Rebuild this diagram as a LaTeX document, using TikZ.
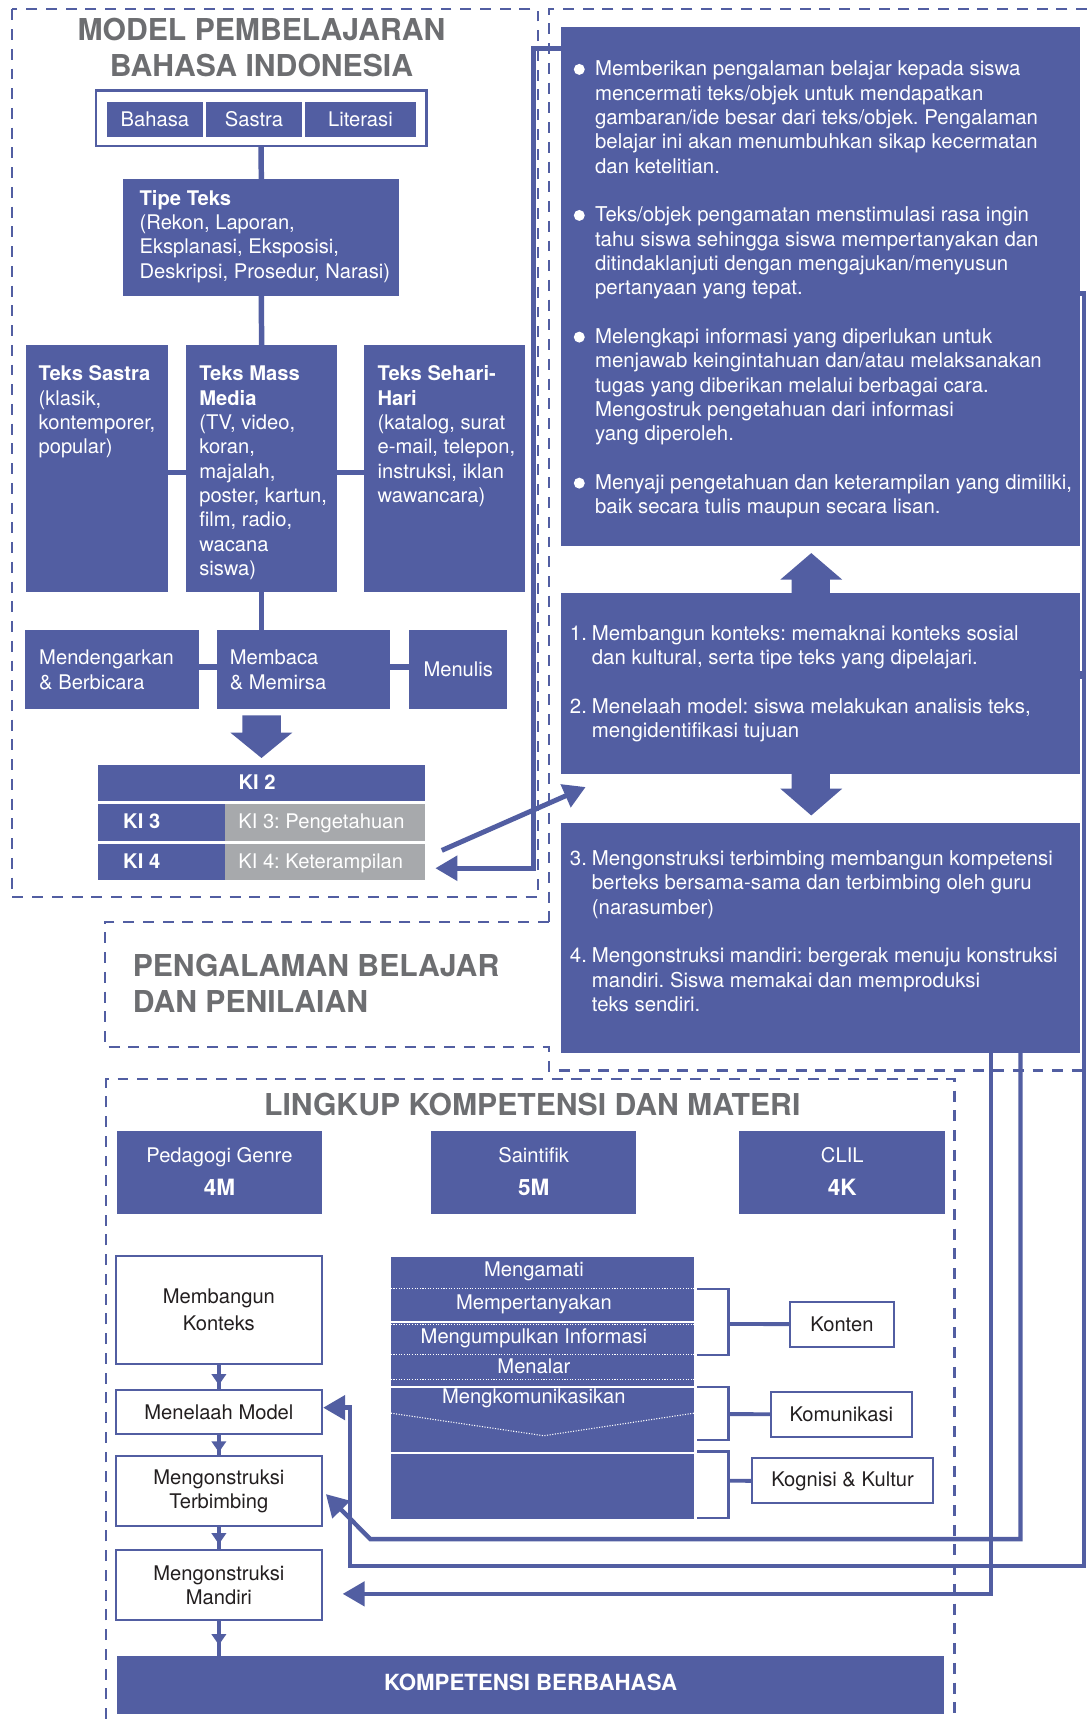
\documentclass[tikz,border=0pt]{standalone}
\usepackage{fontspec}
\setmainfont{TeX Gyre Heros}
\usetikzlibrary{arrows.meta,calc,decorations.markings}
\frenchspacing

\definecolor{ink}{RGB}{82,94,162}
\definecolor{titlegray}{RGB}{109,110,113}
\definecolor{cellgray}{RGB}{167,169,172}
\definecolor{darktext}{RGB}{35,31,32}

\newcommand{\bodyfont}{\fontsize{18.4}{22.2}\selectfont}
\newcommand{\widefont}{\fontsize{18.6}{22.2}\selectfont}
\newcommand{\headfont}{\fontsize{27.5}{33}\selectfont\bfseries}
\newcommand{\bignum}[1]{{\fontsize{20.5}{22.2}\selectfont\bfseries #1}}
\newcommand{\linesL}[1]{\begin{tabular}[t]{@{}l@{}}#1\end{tabular}}
\newcommand{\linesC}[1]{\begin{tabular}[t]{@{}c@{}}#1\end{tabular}}
\newcommand{\numitem}[1]{\makebox[20pt][l]{#1}}
% box by corners: name, style, x1, y1, x2, y2, text
\newcommand{\blk}[7]{\node[#2, minimum width={(#5)-(#3)}, minimum height={(#6)-(#4)}] (#1) at ({((#3)+(#5))/2},{((#4)+(#6))/2}) {#7};}

\begin{document}
\begin{tikzpicture}[x=1pt,y=-1pt,
  fillbox/.style={fill=ink,draw=none,inner sep=0pt,outer sep=0pt,text=white,font=\bodyfont},
  greybox/.style={fill=cellgray,draw=none,inner sep=0pt,outer sep=0pt},
  framebox/.style={draw=ink,line width=2.2pt,fill=white,inner sep=0pt,outer sep=0pt},
  whitebox/.style={draw=ink,line width=2pt,fill=white,inner sep=0pt,outer sep=0pt,text=darktext,font=\bodyfont,align=center},
  txt/.style={inner sep=0pt,outer sep=0pt,text=white,font=\bodyfont},
  widetxt/.style={inner sep=0pt,outer sep=0pt,text=white,font=\widefont},
  headtxt/.style={inner sep=0pt,outer sep=0pt,text=titlegray,font=\headfont},
  dashline/.style={draw=ink,line width=2pt,dash pattern=on 10pt off 8pt},
  link/.style={draw=ink,line width=5pt},
  conn/.style={draw=ink,line width=4.5pt,-{Triangle[length=20pt,width=22pt]}},
  sideconn/.style={draw=ink,line width=4pt},
  bracket/.style={draw=ink,line width=2.2pt},
  tie/.style={draw=ink,line width=3.5pt},
  dotsep/.style={draw=white,line width=1pt,dash pattern=on 1pt off 1.4pt},
  gap/.style={draw=white,line width=2pt},
  stepflow/.style={draw=ink,color=ink,line width=3pt,postaction={decorate},
    decoration={markings,mark=at position #1 with {\arrow{Triangle[length=10pt,width=13pt]}}}},
]
\fill[white] (0,0) rectangle (991.5,1568);
\useasboundingbox (0,0) rectangle (991.5,1568);

% ---------- dashed frames ----------
\draw[dashline] (11.2,8.5) rectangle (490.7,818.3);
\draw[dashline] (991.5,8.5) -- (500.4,8.5) -- (500.4,841.1);
\draw[dashline] (500.4,841.1) -- (95.8,841.1) -- (95.8,955.2) -- (500.4,955.2) -- (500.4,976.5) -- (991.5,976.5);
\draw[dashline] (97,1568) -- (97,984.2) -- (870.6,984.2) -- (870.6,1568);

% ---------- model column ----------
\node[headtxt,anchor=base] (modeltitle) at (238.5,37.1) {\linesC{MODEL PEMBELAJARAN\\BAHASA INDONESIA}};
\blk{frame}{framebox}{87.4}{82.7}{388.9}{133.2}{}
\blk{bahasa}{fillbox}{97.6}{93}{185}{125}{Bahasa}
\blk{sastra}{fillbox}{187.9}{93}{275.3}{125}{Sastra}
\blk{literasi}{fillbox}{278.2}{93}{379.3}{125}{Literasi}

\blk{tipe}{fillbox}{112.4}{163.4}{364.3}{269.8}{}
\node[txt,anchor=base west] (tipetext) at (127.4,187) {\linesL{\textbf{Tipe Teks}\\(Rekon, Laporan,\\Eksplanasi, Eksposisi,\\Deskripsi, Prosedur, Narasi)}};
\draw[link] (frame.south) -- (tipe.north);

\blk{tsastra}{fillbox}{24}{314.8}{153.3}{539.9}{}
\blk{tmass}{fillbox}{169.7}{314.8}{307.6}{539.9}{}
\blk{tsehari}{fillbox}{332.3}{314.8}{479.2}{539.9}{}
\node[txt,anchor=base west] (tsastratext) at (35.2,347.4) {\linesL{\textbf{Teks Sastra}\\(klasik,\\kontemporer,\\popular)}};
\node[txt,anchor=base west] (tmasstext) at (181.8,347.4) {\linesL{\textbf{Teks Mass}\\\textbf{Media}\\(TV, video,\\koran,\\majalah,\\poster, kartun,\\film, radio,\\wacana\\siswa)}};
\node[txt,anchor=base west] (tseharitext) at (344.4,347.4) {\linesL{\textbf{Teks Sehari-}\\\textbf{Hari}\\(katalog, surat\\e-mail, telepon,\\instruksi, iklan\\wawancara)}};
\draw[link] (tipe.south) -- (tmass.north);
\draw[link] ($(tsastra.east)+(0,3.6)$) -- ($(tmass.west)+(0,3.6)$);
\draw[link] ($(tmass.east)+(0,3.6)$) -- ($(tsehari.west)+(0,3.6)$);

\blk{dengar}{fillbox}{22.8}{574.3}{181.2}{646.4}{}
\blk{baca}{fillbox}{197.5}{574.3}{355.6}{646.4}{}
\blk{tulis}{fillbox}{373.2}{574.3}{462.8}{646.4}{Menulis}
\node[txt,anchor=base west] (dengartext) at (35.8,606.3) {\linesL{Mendengarkan\\\& Berbicara}};
\node[txt,anchor=base west] (bacatext) at (209.6,606.3) {\linesL{Membaca\\\& Memirsa}};
\draw[link] (tmass.south) -- (tmass.south |- baca.north);
\draw[link] ($(dengar.east)+(0,-2)$) -- ($(baca.west)+(0,-2)$);
\draw[link] ($(baca.east)+(0,-2)$) -- ($(tulis.west)+(0,-2)$);

% block arrow down to KI
\fill[ink] (221,652.5) -- (256.2,652.5) -- (256.2,668.3) -- (266.6,668.3) -- (238.5,691.4) -- (210.2,668.3) -- (221,668.3) -- cycle;

\blk{ki2}{fillbox}{89}{697.8}{388.1}{730.7}{}
\blk{ki3a}{fillbox}{89}{733.7}{205.3}{767.2}{}
\blk{ki3b}{greybox}{205.3}{733.7}{388.1}{767.2}{}
\blk{ki4a}{fillbox}{89}{769.6}{205.3}{803.1}{}
\blk{ki4b}{greybox}{205.3}{769.6}{388.1}{803.1}{}
\node[txt,anchor=base] (ki2text) at (234.5,720) {\textbf{KI 2}};
\node[txt,anchor=base west] (ki3text) at (112.4,756) {\textbf{KI 3}};
\node[txt,anchor=base west] (ki3desc) at (217.4,756) {KI 3: Pengetahuan};
\node[txt,anchor=base west] (ki4text) at (112.4,792.4) {\textbf{KI 4}};
\node[txt,anchor=base west] (ki4desc) at (217.4,792.4) {KI 4: Keterampilan};

% ---------- learning experience column ----------
\node[headtxt,anchor=base west] (pengtitle) at (121.1,890.7) {\linesL{PENGALAMAN BELAJAR\\DAN PENILAIAN}};

\blk{topbox}{fillbox}{511.9}{24.4}{985.4}{498}{}
\node[widetxt,anchor=base west] (obstext) at (542.8,69.1) {\linesL{%
Memberikan pengalaman belajar kepada siswa\\
mencermati teks/objek untuk mendapatkan\\
gambaran/ide besar dari teks/objek. Pengalaman\\
belajar ini akan menumbuhkan sikap kecermatan\\
dan ketelitian.\\ \\
Teks/objek pengamatan menstimulasi rasa ingin\\
tahu siswa sehingga siswa mempertanyakan dan\\
ditindaklanjuti dengan mengajukan/menyusun\\
pertanyaan yang tepat.\\ \\
Melengkapi informasi yang diperlukan untuk\\
menjawab keingintahuan dan/atau melaksanakan\\
tugas yang diberikan melalui berbagai cara.\\
Mengostruk pengetahuan dari informasi\\
yang diperoleh.\\ \\
Menyaji pengetahuan dan keterampilan yang dimiliki,\\
baik secara tulis maupun secara lisan.}};
\foreach \r in {0,6,11,17} \fill[white] (528.4,{69.1+\r*22.2-5.8}) circle (5pt);

\blk{box2}{fillbox}{511.9}{540.9}{985.4}{705.7}{}
\node[widetxt,anchor=base west] (steps12) at (519.9,584) {\linesL{%
\numitem{1.}Membangun konteks: memaknai konteks sosial\\
\numitem{}dan kultural, serta tipe teks yang dipelajari.\\ \\
\numitem{2.}Menelaah model: siswa melakukan analisis teks,\\
\numitem{}mengidentifikasi tujuan}};

\blk{box3}{fillbox}{511.9}{750.4}{985.4}{960.6}{}
\node[widetxt,anchor=base west] (steps34) at (519.9,789.4) {\linesL{%
\numitem{3.}Mengonstruksi terbimbing membangun kompetensi\\
\numitem{}berteks bersama-sama dan terbimbing oleh guru\\
\numitem{}(narasumber)\\ \\
\numitem{4.}Mengonstruksi mandiri: bergerak menuju konstruksi\\
\numitem{}mandiri. Siswa memakai dan memproduksi\\
\numitem{}teks sendiri.}};

% block arrows between the step boxes
\fill[ink] (722,540.9) -- (722,528.7) -- (711.8,528.7) -- (740,504.5) -- (768.2,528.7) -- (757,528.7) -- (757,540.9) -- cycle;
\fill[ink] (722,705.7) -- (722,719.4) -- (711.8,719.4) -- (740,743.8) -- (768.2,719.4) -- (757,719.4) -- (757,705.7) -- cycle;

% ---------- competence and material ----------
\node[headtxt,anchor=base] (lingkuptitle) at (485.5,1017.5) {LINGKUP KOMPETENSI DAN MATERI};
\blk{ped}{fillbox}{106.3}{1031.2}{294}{1107.3}{}
\blk{sai}{fillbox}{393.1}{1031.2}{580.4}{1107.3}{}
\blk{clil}{fillbox}{674.4}{1031.2}{862.2}{1107.3}{}
\node[txt,anchor=base] (pedtext) at ($(ped.north)+(0,28.9)$) {\linesC{Pedagogi Genre\\[8.2pt]\bignum{4M}}};
\node[txt,anchor=base] (saitext) at ($(sai.north)+(0,28.9)$) {\linesC{Saintifik\\[8.2pt]\bignum{5M}}};
\node[txt,anchor=base] (clittext) at ($(clil.north)+(0,28.9)$) {\linesC{CLIL\\[8.2pt]\bignum{4K}}};

\blk{mk}{whitebox}{105.5}{1145.3}{293.8}{1244.1}{Membangun\\[2pt]Konteks}
\blk{mm}{whitebox}{105.5}{1267.6}{293.8}{1308}{Menelaah Model}
\blk{terb}{whitebox}{105.5}{1328.4}{293.8}{1392.3}{Mengonstruksi\\Terbimbing}
\blk{mand}{whitebox}{105.5}{1413.9}{293.8}{1477.8}{Mengonstruksi\\Mandiri}
\blk{komp}{fillbox}{106.7}{1510.3}{861.3}{1563.5}{}
\node[txt,anchor=base] (komptext) at ($(komp.center)+(0,5.2)$) {\fontsize{20.3}{22}\selectfont\bfseries KOMPETENSI BERBAHASA};
\draw[stepflow=0.82] (mk.south) -- (mm.north);
\draw[stepflow=0.82] (mm.south) -- (terb.north);
\draw[stepflow=0.75] (terb.south) -- (mand.north);
\draw[stepflow=0.7] (mand.south) -- (mand.south |- komp.north);

% scientific steps stack
\blk{stack}{fillbox}{356.5}{1146.5}{633.1}{1385.6}{}
\draw[gap] (356.5,1205.5) -- (633.1,1205.5);
\draw[gap] (356.5,1265.4) -- (633.1,1265.4);
\draw[gap] (356.5,1325.7) -- (633.1,1325.7);
\draw[dotsep] (356.5,1175.7) -- (633.1,1175.7);
\draw[dotsep] (356.5,1208) -- (633.1,1208);
\draw[dotsep] (356.5,1235.9) -- (633.1,1235.9);
\draw[dotsep] (356.5,1257.9) -- (633.1,1257.9);
\draw[dotsep] (356.5,1289) -- (496,1309.6) -- (633.1,1289);
\node[txt,anchor=base] (s1) at (487,1164.5) {Mengamati};
\node[txt,anchor=base] (s2) at (487,1194) {Mempertanyakan};
\node[txt,anchor=base] (s3) at (487,1225.9) {Mengumpulkan Informasi};
\node[txt,anchor=base] (s4) at (487,1252.7) {Menalar};
\node[txt,anchor=base] (s5) at (487,1280.6) {Mengkomunikasikan};

\blk{konten}{whitebox}{720.4}{1187.3}{815.6}{1228.3}{Konten}
\blk{komun}{whitebox}{703.3}{1269.4}{831.6}{1310.5}{Komunikasi}
\blk{kogn}{whitebox}{686.1}{1330.2}{851}{1371.3}{Kognisi \& Kultur}
\draw[bracket] ($(stack.north east)+(3,29.2)$) -| ($(stack.north east)+(31.4,89.4)$) -- ($(stack.north east)+(3,89.4)$);
\draw[bracket] ($(stack.north east)+(3,118.9)$) -| ($(stack.north east)+(31.4,167)$) -- ($(stack.north east)+(3,167)$);
\draw[bracket] ($(stack.north east)+(3,177.3)$) -| ($(stack.north east)+(31.4,238.2)$) -- ($(stack.north east)+(3,238.2)$);
\coordinate (br1) at ($(stack.north east)+(31.4,61.2)$);
\coordinate (br2) at ($(stack.north east)+(31.4,143.4)$);
\coordinate (br3) at ($(stack.north east)+(31.4,204.2)$);
\draw[tie] (br1) -- (konten.west);
\draw[tie] (br2) -- (komun.west);
\draw[tie] (br3) -- (kogn.west);

% ---------- long connectors ----------
\draw[conn] ($(topbox.north west)+(0,19.7)$) -- ++(-25.2,0) |- ($(ki4b.east)+(9,5.6)$);
\draw[conn] ($(ki4b.east)+(14.9,-10.65)$) -- ($(box2.south west)+(22.3,12.2)$);
\draw[sideconn] ($(topbox.south east)+(0,-230.3)$) -- ++(3.2,0) |- ($(box2.north east)+(0,73.1)$);
\draw[conn,line width=4pt] ($(box2.north east)+(0,76.5)$) -- ++(3.2,0) |- ($(mm.east)+(25.6,140.4)$) |- ($(mm.east)+(1,-3.8)$);
\draw[conn,line width=4pt] ($(box3.south west)+(418.9,0)$) |- ($(terb.east)+(43.9,43.5)$) -- ($(terb.east)+(3.5,2.5)$);
\draw[conn,line width=4pt] ($(box3.south west)+(392.1,0)$) |- ($(mand.east)+(18.8,8)$);
\end{tikzpicture}
\end{document}
